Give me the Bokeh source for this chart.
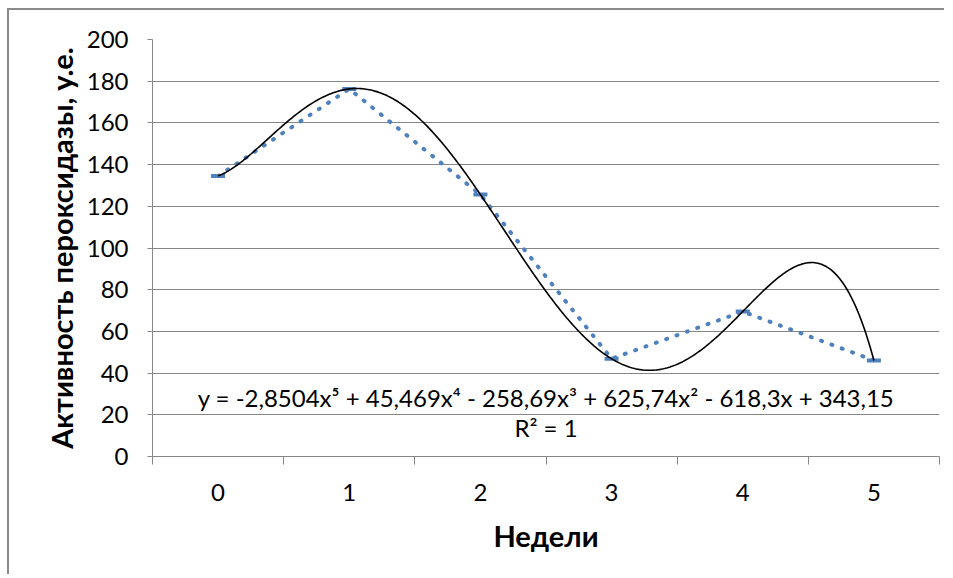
import numpy as np
from bokeh.plotting import figure
from bokeh.models import FixedTicker, Label, Range1d
from bokeh.embed import file_html
from bokeh.resources import INLINE

# ---- data ----
weeks = [0, 1, 2, 3, 4, 5]
week_labels = ["0", "1", "2", "3", "4", "5"]
activity = [134.5, 176.3, 125.6, 46.9, 69.5, 46.1]
# Excel polynomial trendline (x = category index 1..6), highest power first
trend_coefs = [-2.8504, 45.469, -258.69, 625.74, -618.3, 343.15]
y_ticks = [0, 20, 40, 60, 80, 100, 120, 140, 160, 180, 200]
eq_text = "y = -2,8504x\u2075 + 45,469x\u2074 - 258,69x\u00b3 + 625,74x\u00b2 - 618,3x + 343,15"
r2_text = "R\u00b2 = 1"

BLUE = "#4F81BD"
GREY = "#868686"
FONT = "Lato"

W, H = 944, 574
p = figure(width=W, height=H, output_backend="svg", toolbar_location=None,
           x_range=Range1d(-0.5, 5.5), y_range=Range1d(0, 200),
           min_border_left=152, min_border_right=5, min_border_top=39, min_border_bottom=118)
p.outline_line_color = None
p.background_fill_color = "white"
p.border_fill_color = None
# chart-area border: only its top and left edges fall inside the picture
p.styles = {
    "background-color": "white",
    "background-image": "linear-gradient(#8a8a8a, #8a8a8a), linear-gradient(#8a8a8a, #8a8a8a)",
    "background-size": "100% 2px, 2px 100%",
    "background-position": "7px 8px, 7px 8px",
    "background-repeat": "no-repeat",
}

# grid
p.xgrid.grid_line_color = None
p.ygrid.grid_line_color = GREY
p.ygrid.grid_line_width = 1

# y axis
p.yaxis.ticker = FixedTicker(ticks=y_ticks)
p.yaxis.axis_line_color = GREY
p.yaxis.major_tick_line_color = GREY
p.yaxis.major_tick_out = 5
p.yaxis.major_tick_in = 0
p.yaxis.minor_tick_line_color = None
p.yaxis.major_label_text_font = FONT
p.yaxis.major_label_text_font_size = "24px"
p.yaxis.major_label_text_color = "black"
p.yaxis.major_label_standoff = 19
p.yaxis.axis_label = "Активность пероксидазы, у.е."
p.yaxis.axis_label_text_font = FONT
p.yaxis.axis_label_text_font_style = "bold"
p.yaxis.axis_label_text_font_size = "29px"
p.yaxis.axis_label_text_color = "black"
p.yaxis.axis_label_standoff = 5

# x axis
bounds = [w - 0.5 for w in weeks] + [weeks[-1] + 0.5]
p.xaxis.ticker = FixedTicker(ticks=weeks, minor_ticks=bounds)
p.xaxis.major_label_overrides = {w: l for w, l in zip(weeks, week_labels)}
p.xaxis.axis_line_color = GREY
p.xaxis.major_tick_line_color = None
p.xaxis.major_tick_out = 0
p.xaxis.major_tick_in = 0
p.xaxis.minor_tick_line_color = GREY
p.xaxis.minor_tick_out = 8
p.xaxis.minor_tick_in = 0
p.xaxis.major_label_text_font = FONT
p.xaxis.major_label_text_font_size = "24px"
p.xaxis.major_label_text_color = "black"
p.xaxis.major_label_standoff = 19
p.xaxis.axis_label = "Недели"
p.xaxis.axis_label_text_font = FONT
p.xaxis.axis_label_text_font_style = "bold"
p.xaxis.axis_label_text_font_size = "29px"
p.xaxis.axis_label_text_color = "black"
p.xaxis.axis_label_standoff = 14

# data line (dotted) and markers
p.line(weeks, activity, line_color=BLUE, line_width=4, line_dash="1 10", line_cap="round")
p.scatter(weeks, activity, marker="dash", size=14, line_color=BLUE, line_width=4)

# polynomial trendline
xs = np.linspace(weeks[0], weeks[-1], 400)
ys = np.polyval(trend_coefs, xs + 1)
p.line(xs, ys, line_color="black", line_width=1.6)

# equation labels
p.add_layout(Label(x=2.5, y=28.4, text=eq_text, text_align="center", text_baseline="middle",
                   text_font=FONT, text_font_size="24px", text_color="black"))
p.add_layout(Label(x=2.5, y=13.9, text=r2_text, text_align="center", text_baseline="middle",
                   text_font=FONT, text_font_size="24px", text_color="black"))

open("out.html", "w").write(file_html(p, INLINE))
